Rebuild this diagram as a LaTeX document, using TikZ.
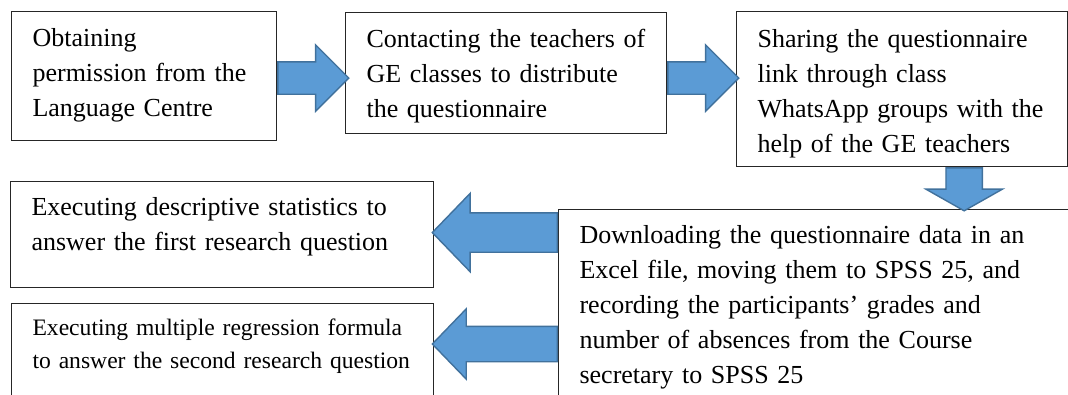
\documentclass[tikz,border=0pt]{standalone}
\usepackage{fontspec}
\setmainfont{Liberation Serif}
\usetikzlibrary{shapes.arrows,calc}
\definecolor{arrowfill}{RGB}{91,155,213}
\definecolor{arrowline}{RGB}{65,113,156}
\tikzset{
  stage/.style={draw=black!85, line width=1.1pt, anchor=north west, inner xsep=0pt,
    inner ysep=0pt, font=\fontsize{26}{35}\selectfont,
    execute at begin node={\raggedright\leftskip=21pt\relax}},
  blockarrow/.style={single arrow, draw=arrowline, fill=arrowfill, line width=1.4pt,
    anchor=tail, inner xsep=0pt, single arrow head extend=17pt, single arrow tip angle=90}
}
\begin{document}
\begin{tikzpicture}[x=1pt,y=-1pt]
  \useasboundingbox (0,0) rectangle (1068,394);
  \clip (0,0) rectangle (1068,394);
  % top row
  \node[stage, text width=265pt, text height=35pt, text depth=94pt] (perm) at (11,11)
    {Obtaining\\permission from the\\Language Centre};
  \node[stage, text width=321pt, text height=35pt, text depth=86pt] (contact) at (345,12)
    {Contacting the teachers of\\GE classes to distribute\\the questionnaire};
  \node[stage, text width=331pt, text height=36pt, text depth=119pt] (share) at (736,11)
    {Sharing the questionnaire\\link through class\\WhatsApp groups with the\\help of the GE teachers};
  % lower part
  \node[stage, text width=423pt, text height=34pt, text depth=72pt] (descr) at (10,181)
    {Executing descriptive statistics to\\answer the first research question};
  \node[stage, text width=600pt, text height=34pt, text depth=250pt] (download) at (558,209)
    {Downloading the questionnaire data in an\\Excel file, moving them to SPSS 25, and\\recording the participants’ grades and\\number of absences from the Course\\secretary to SPSS 25};
  \node[stage, text width=422pt, text height=32pt, text depth=150pt,
    font=\fontsize{23.6}{33}\selectfont] (regr) at (11,303)
    {Executing multiple regression formula\\to answer the second research question};
  % block arrows
  \node[blockarrow, minimum height=71pt, inner ysep=15.5pt] (a12)
    at ($(perm.east)+(0,2)$) {};
  \node[blockarrow, minimum height=71pt, inner ysep=15.5pt] (a23)
    at ($(contact.east)+(0,5)$) {};
  \node[blockarrow, rotate=-90, minimum height=43pt, inner ysep=17.5pt,
    single arrow head extend=20pt, single arrow tip angle=121] (a35)
    at ($(share.south west)!0.687!(share.south east)$) {};
  \node[blockarrow, rotate=180, minimum height=125pt, inner ysep=19pt,
    single arrow head extend=19.5pt, single arrow tip angle=92] (a54)
    at ($(descr.east -| download.west)+(0,-2)$) {};
  \node[blockarrow, rotate=180, minimum height=125pt, inner ysep=17pt,
    single arrow head extend=17.5pt, single arrow tip angle=92] (a56)
    at ($(regr.north east -| download.west)+(0,41)$) {};
\end{tikzpicture}
\end{document}
